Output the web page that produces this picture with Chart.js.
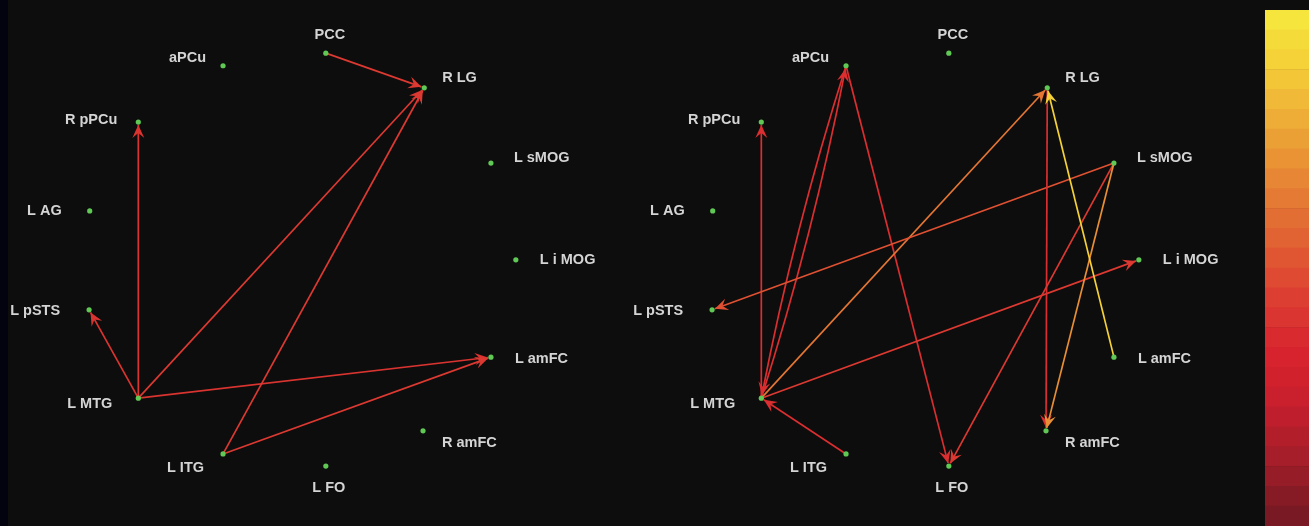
<!DOCTYPE html>
<html>
<head>
<meta charset="utf-8">
<script src="https://cdn.jsdelivr.net/npm/chart.js@4.4.1/dist/chart.umd.min.js"></script>
<style>
  html, body { margin: 0; padding: 0; }
  body { width: 1309px; height: 526px; background: #0d0d0d; position: relative; overflow: hidden; }
  #edge { position: absolute; left: 0; top: 0; width: 8px; height: 526px; background: #03030f; }
  .panel { position: absolute; top: 0; }
  #leftPanel { left: 0; }
  #rightPanel { left: 623px; }
  #scaleBar { position: absolute; left: 1265px; top: 10px; }
</style>
</head>
<body>
<div id="edge"></div>
<canvas id="leftPanel" class="panel" width="623" height="526"></canvas>
<canvas id="rightPanel" class="panel" width="623" height="526"></canvas>
<canvas id="scaleBar" width="44" height="516"></canvas>
<script>
// node layout (same for both networks)
const nodeNames = ['aPCu', 'PCC', 'R LG', 'R pPCu', 'L sMOG', 'L AG', 'L i MOG', 'L pSTS', 'L amFC', 'L MTG', 'R amFC', 'L ITG', 'L FO'];
const nodeX = [35.8, 52.3, 68.1, 22.2, 78.8, 14.4, 82.8, 14.3, 78.8, 22.2, 67.9, 35.8, 52.3];
const nodeY = [87.5, 89.9, 83.3, 76.8, 69.0, 59.9, 50.6, 41.1, 32.1, 24.3, 18.1, 13.7, 11.4];

// directed connections [from, to] and their strength (0..1 on the colour scale)
const leftEdges = [
  ['PCC', 'R LG'], ['L MTG', 'R pPCu'], ['L MTG', 'L pSTS'], ['L MTG', 'R LG'],
  ['L MTG', 'L amFC'], ['L ITG', 'R LG'], ['L ITG', 'L amFC']
];
const leftWeights = [0.42, 0.4, 0.4, 0.42, 0.4, 0.42, 0.42];

const rightEdges = [
  ['L MTG', 'R pPCu'], ['L MTG', 'aPCu'], ['aPCu', 'L MTG'], ['aPCu', 'L FO'],
  ['L MTG', 'R LG'], ['L sMOG', 'L pSTS'], ['L MTG', 'L i MOG'], ['R LG', 'R amFC'],
  ['L sMOG', 'L FO'], ['L sMOG', 'R amFC'], ['L amFC', 'R LG'], ['L ITG', 'L MTG']
];
const rightWeights = [0.38, 0.38, 0.38, 0.38, 0.62, 0.5, 0.42, 0.38, 0.42, 0.7, 0.9, 0.38];

// colour scale, bottom (0) to top (1)
const scaleStops = [
  [0.00, [112, 24, 34]], [0.12, [160, 30, 40]], [0.24, [200, 30, 45]],
  [0.34, [216, 36, 46]], [0.44, [220, 62, 50]], [0.55, [225, 96, 50]],
  [0.66, [230, 130, 52]], [0.78, [236, 170, 55]], [0.89, [245, 206, 55]],
  [1.00, [246, 234, 62]]
];
const scaleSteps = 26;

function colourAt(v) {
  for (let i = 1; i < scaleStops.length; i++) {
    const [p1, c1] = scaleStops[i];
    const [p0, c0] = scaleStops[i - 1];
    if (v <= p1) {
      const t = (v - p0) / (p1 - p0);
      const c = c0.map((a, k) => Math.round(a + (c1[k] - a) * t));
      return 'rgb(' + c.join(',') + ')';
    }
  }
  return 'rgb(' + scaleStops[scaleStops.length - 1][1].join(',') + ')';
}

// where each name sits relative to its dot
const labelPlace = {
  'aPCu': ['right', -17, -8], 'PCC': ['center', 4, -18], 'R LG': ['left', 18, -10],
  'R pPCu': ['right', -21, -2], 'L sMOG': ['left', 23, -5], 'L AG': ['right', -28, 0],
  'L i MOG': ['left', 24, 0], 'L pSTS': ['right', -29, 1], 'L amFC': ['left', 24, 2],
  'L MTG': ['right', -26, 6], 'R amFC': ['left', 19, 12], 'L ITG': ['right', -19, 14],
  'L FO': ['center', 3, 22]
};

function drawArrowHead(ctx, tx, ty, ang, colour) {
  const len = 13, half = 6, notch = 8;
  ctx.save();
  ctx.translate(tx, ty);
  ctx.rotate(ang);
  ctx.beginPath();
  ctx.moveTo(0, 0);
  ctx.lineTo(-len, -half);
  ctx.lineTo(-notch, 0);
  ctx.lineTo(-len, half);
  ctx.closePath();
  ctx.fillStyle = colour;
  ctx.fill();
  ctx.restore();
}

const networkPlugin = {
  id: 'network',
  beforeDatasetsDraw(chart) {
    const ctx = chart.ctx;
    const xs = chart.scales.x, ys = chart.scales.y;
    const edges = chart.options.plugins.network.edges;
    const weights = chart.options.plugins.network.weights;
    const key = e => e[0] + '>' + e[1];
    const all = new Set(edges.map(key));
    edges.forEach((e, i) => {
      const a = nodeNames.indexOf(e[0]), b = nodeNames.indexOf(e[1]);
      const x0 = xs.getPixelForValue(nodeX[a]), y0 = ys.getPixelForValue(nodeY[a]);
      const x1 = xs.getPixelForValue(nodeX[b]), y1 = ys.getPixelForValue(nodeY[b]);
      const colour = colourAt(weights[i]);
      const dx = x1 - x0, dy = y1 - y0, d = Math.hypot(dx, dy);
      // two-way links bow apart so both stay visible
      const bend = all.has(e[1] + '>' + e[0]) ? 10 : 0;
      const cx = (x0 + x1) / 2 - dy / d * bend, cy = (y0 + y1) / 2 + dx / d * bend;
      const ang = Math.atan2(y1 - cy, x1 - cx);
      const tx = x1 - Math.cos(ang) * 3, ty = y1 - Math.sin(ang) * 3;
      ctx.save();
      ctx.strokeStyle = colour;
      ctx.lineWidth = 1.7;
      ctx.beginPath();
      ctx.moveTo(x0, y0);
      ctx.quadraticCurveTo(cx, cy, tx, ty);
      ctx.stroke();
      ctx.restore();
      drawArrowHead(ctx, tx, ty, ang, colour);
    });
  },
  afterDatasetsDraw(chart) {
    const ctx = chart.ctx;
    const xs = chart.scales.x, ys = chart.scales.y;
    ctx.save();
    ctx.font = 'bold 14.5px "Liberation Sans", Arial, sans-serif';
    ctx.fillStyle = '#d4d4d4';
    ctx.textBaseline = 'middle';
    nodeNames.forEach((n, i) => {
      const [align, ox, oy] = labelPlace[n];
      ctx.textAlign = align;
      ctx.fillText(n, xs.getPixelForValue(nodeX[i]) + ox, ys.getPixelForValue(nodeY[i]) + oy);
    });
    ctx.restore();
  }
};

function makeNetwork(id, edges, weights) {
  return new Chart(document.getElementById(id), {
    type: 'scatter',
    data: {
      datasets: [{
        data: nodeNames.map((n, i) => ({ x: nodeX[i], y: nodeY[i] })),
        pointRadius: 2.6,
        pointHoverRadius: 2.6,
        pointBackgroundColor: 'rgb(96, 200, 84)',
        pointBorderWidth: 0
      }]
    },
    options: {
      responsive: false,
      animation: false,
      layout: { padding: 0, autoPadding: false },
      scales: {
        x: { type: 'linear', min: 0, max: 100, display: false },
        y: { type: 'linear', min: 0, max: 100, display: false }
      },
      plugins: {
        legend: { display: false },
        tooltip: { enabled: false },
        network: { edges: edges, weights: weights }
      }
    },
    plugins: [networkPlugin]
  });
}

makeNetwork('leftPanel', leftEdges, leftWeights);
makeNetwork('rightPanel', rightEdges, rightWeights);

// colour bar as a stack of equal bands
const bandValues = Array.from({ length: scaleSteps }, () => 1);
new Chart(document.getElementById('scaleBar'), {
  type: 'bar',
  data: {
    labels: [''],
    datasets: bandValues.map((v, i) => ({
      data: [v],
      backgroundColor: colourAt((i + 0.5) / scaleSteps),
      borderWidth: 0,
      barPercentage: 1,
      categoryPercentage: 1
    }))
  },
  options: {
    responsive: false,
    animation: false,
    layout: { padding: 0, autoPadding: false },
    scales: {
      x: { stacked: true, display: false },
      y: { stacked: true, display: false, min: 0, max: scaleSteps }
    },
    plugins: { legend: { display: false }, tooltip: { enabled: false } }
  }
});
</script>
</body>
</html>
